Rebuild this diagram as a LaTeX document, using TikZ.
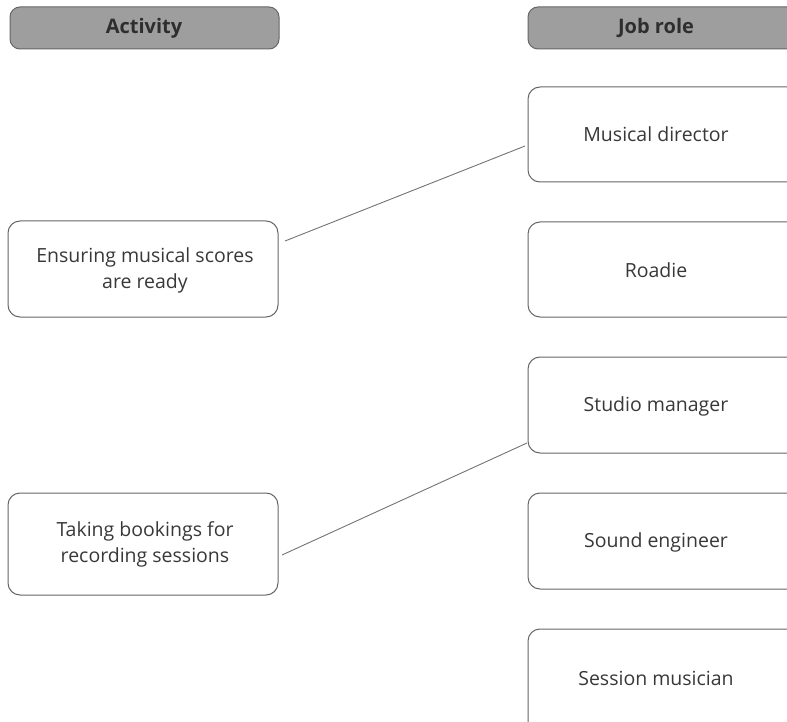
\documentclass[tikz,border=0pt]{standalone}
\usepackage{fontspec}
\setmainfont{Open Sans}
\begin{document}
\begin{tikzpicture}[x=1pt,y=-1pt,
  hdr/.style={draw=black!60, line width=1pt, fill=black!38, rounded corners=10pt},
  box/.style={draw=black!60, line width=1pt, rounded corners=12pt},
  lbl/.style={font=\fontsize{19.5}{26}\selectfont, text=black!78, align=center},
  hlbl/.style={font=\fontsize{20}{24}\selectfont\bfseries, text=black!82},
  link/.style={draw=black!55, line width=0.9pt}]
\useasboundingbox (0,0) rectangle (787,722);
\clip (0,0) rectangle (787,722);
% headers
\draw[hdr] (10,7) rectangle (279,49);
\node[hlbl] (hA) at (144,28) {Activity};
\draw[hdr] (528,7) rectangle (800,49);
\node[hlbl] (hJ) at (656,28) {Job role};
% left boxes
\draw[box] (8,221) rectangle (278,317);
\node[lbl] (a1) at (145,270) {Ensuring musical scores\\are ready};
\draw[box] (8,493) rectangle (278,595);
\node[lbl] (a2) at (145,544) {Taking bookings for\\recording sessions};
% right boxes
\draw[box] (528,87) rectangle (800,182);
\node[lbl] (r1) at (656,134) {Musical director};
\draw[box] (528,222) rectangle (800,317);
\node[lbl] (r2) at (656,270) {Roadie};
\draw[box] (528,357) rectangle (800,453);
\node[lbl] (r3) at (656,406) {Studio manager};
\draw[box] (528,493) rectangle (800,589);
\node[lbl] (r4) at (656,542) {Sound engineer};
\draw[box] (528,629) rectangle (800,740);
\node[lbl] (r5) at (656,678) {Session musician};
% connectors
\coordinate (s1) at (285,241);
\coordinate (e1) at (525,146);
\coordinate (s2) at (282,555);
\coordinate (e2) at (527,443);
\draw[link] (s1) -- (e1);
\draw[link] (s2) -- (e2);
\end{tikzpicture}
\end{document}
